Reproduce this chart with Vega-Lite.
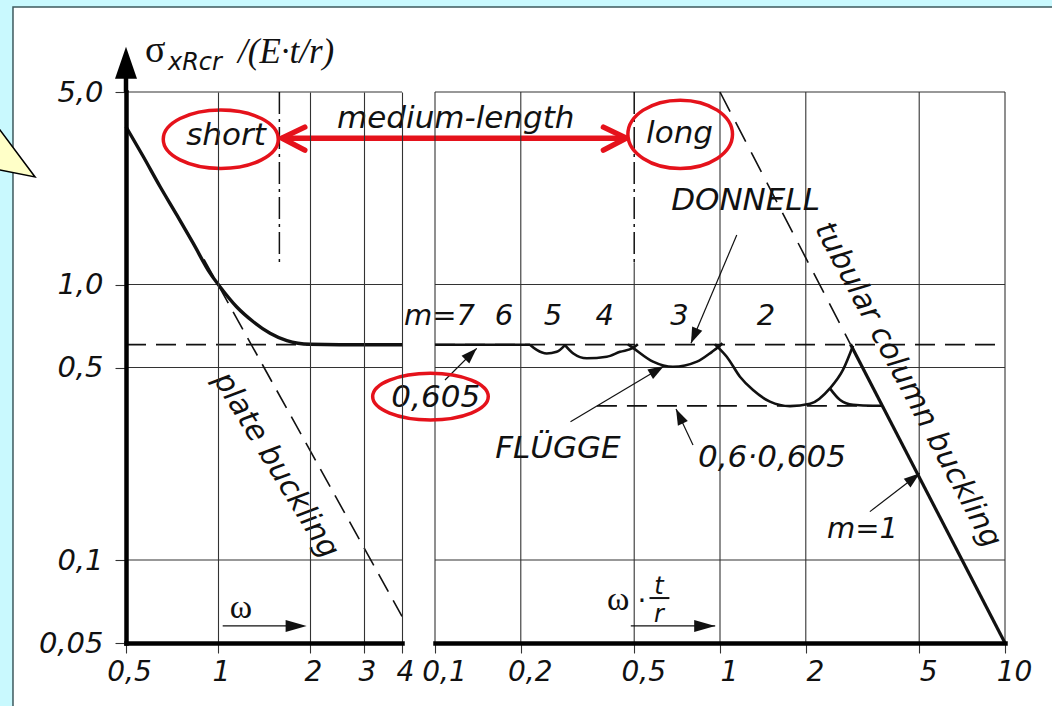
{
"$schema": "https://vega.github.io/schema/vega-lite/v6.json",
"width": 879, "height": 551, "autosize": "none",
"padding": {"left": 126, "top": 92, "right": 47, "bottom": 63},
"background": "#c9f9fe",
"config": {"view": {"stroke": null}},
"datasets": {
 "whiteBox": [{"w": 0.2134, "w2": 1000, "s": 10.17, "s2": 0.01}],
 "callout": [{"w": 0.1936, "s": 3.08}],
 "hgridL": [{"w": 0.5, "w2": 4, "s": 5}, {"w": 0.5, "w2": 4, "s": 1}, {"w": 0.5, "w2": 4, "s": 0.5}, {"w": 0.5, "w2": 4, "s": 0.1}],
 "yShaft": [{"w": 0.5, "s": 5, "s2": 6.53}],
 "yHead": [{"w": 0.5, "s": 7.3}],
 "redArrow": [{"w": 1.617, "w2": 21.7, "s": 3.40}],
 "redHeadL": [{"w": 1.617, "s": 3.40}],
 "redHeadR": [{"w": 21.7, "s": 3.40}],
 "ellShort": [{"w": 1.021, "s": 3.37}],
 "leftLabels": [
  {"part": "short", "w": 1.062, "s": 3.21, "label": "short"},
  {"part": "plate", "w": 1.548, "s": 0.221, "label": "plate buckling"},
  {"part": "sigma", "w": 0.577, "s": 6.42, "label": "σ"},
  {"part": "sub", "w": 0.686, "s": 6.01, "label": "xRcr"},
  {"part": "rest", "w": 1.163, "s": 6.37, "label": "/(E·t/r)"},
  {"part": "omega", "w": 1.189, "s": 0.0616, "label": "ω"}
 ],
 "omegaArrow": [{"w": 1.036, "w2": 1.9, "s": 0.05765}],
 "omegaHead": [{"w": 1.95, "s": 0.05765}],
 "leftCurve": [{"w":0.5,"s":3.74},{"w":0.57,"s":2.91},{"w":0.646,"s":2.27},{"w":0.733,"s":1.79},{"w":0.83,"s":1.41},{"w":0.942,"s":1.10},{"w":1.015,"s":0.982},{"w":1.15,"s":0.831},{"w":1.305,"s":0.733},{"w":1.48,"s":0.666},{"w":1.68,"s":0.626},{"w":2.0,"s":0.607},{"w":2.5,"s":0.605},{"w":4,"s":0.605}],
 "plate": [{"w":0.9,"s":1.235},{"w":4,"s":0.0625}],
 "flatLeft": [{"w":0.5,"s":0.605},{"w":4,"s":0.605}],
 "dashDotLeft": [{"w":1.588,"s":5},{"w":1.588,"s":1.205}],
 "hgridR": [{"v": 0.1, "v2": 10, "s": 5}, {"v": 0.1, "v2": 10, "s": 1}, {"v": 0.1, "v2": 10, "s": 0.5}, {"v": 0.1, "v2": 10, "s": 0.1}],
 "flatRight": [{"v":0.1,"s":0.605},{"v":10,"s":0.605}],
 "lowerDash": [{"v":0.37,"s":0.363},{"v":3.7,"s":0.363}],
 "dashDotRight": [{"v":0.5,"s":5},{"v":0.5,"s":1.205}],
 "columnDashed": [{"v":1,"s":5},{"v":2.87,"s":0.607}],
 "columnSolid": [{"v":2.87,"s":0.607},{"v":10,"s":0.05}],
 "vgridRight": [{"v":0.1,"s":0.05,"s2":5},{"v":0.2,"s":0.05,"s2":5},{"v":0.5,"s":0.05,"s2":1.205},{"v":1,"s":0.05,"s2":5},{"v":2,"s":0.05,"s2":5},{"v":5,"s":0.05,"s2":5},{"v":10,"s":0.05,"s2":5}],
 "rightCurves": [
  {"m":"7","v":0.1,"s":0.605},{"m":"7","v":0.2154,"s":0.605},
  {"m":"5","v":0.2154,"s":0.605},{"m":"5","v":0.2275,"s":0.579},{"m":"5","v":0.2466,"s":0.562},{"m":"5","v":0.2673,"s":0.570},{"m":"5","v":0.2858,"s":0.603},
  {"m":"4","v":0.2858,"s":0.603},{"m":"4","v":0.3057,"s":0.562},{"m":"4","v":0.3406,"s":0.540},{"m":"4","v":0.4005,"s":0.547},{"m":"4","v":0.4459,"s":0.570},{"m":"4","v":0.4953,"s":0.589},{"m":"4","v":0.515,"s":0.607},
  {"m":"3","v":0.475,"s":0.607},{"m":"3","v":0.4953,"s":0.589},{"m":"3","v":0.582,"s":0.525},{"m":"3","v":0.684,"s":0.503},{"m":"3","v":0.83,"s":0.525},{"m":"3","v":0.937,"s":0.570},{"m":"3","v":0.984,"s":0.592},{"m":"3","v":1.02,"s":0.612},
  {"m":"2","v":0.96,"s":0.607},{"m":"2","v":0.984,"s":0.592},{"m":"2","v":1.056,"s":0.547},{"m":"2","v":1.175,"s":0.463},{"m":"2","v":1.306,"s":0.414},{"m":"2","v":1.497,"s":0.376},{"m":"2","v":1.761,"s":0.362},{"m":"2","v":2.07,"s":0.369},{"m":"2","v":2.43,"s":0.42},{"m":"2","v":2.7,"s":0.49},{"m":"2","v":2.93,"s":0.6},
  {"m":"1","v":2.43,"s":0.42},{"m":"1","v":2.64,"s":0.381},{"m":"1","v":2.93,"s":0.366},{"m":"1","v":3.44,"s":0.363},{"m":"1","v":3.7,"s":0.363}
 ],
 "arrows": [
  {"name":"0,605","v":0.1084,"s":0.4505,"v2":0.1401,"s2":0.587},
  {"name":"DONNELL","v":1.145,"s":1.513,"v2":0.791,"s2":0.612},
  {"name":"FLÜGGE","v":0.2988,"s":0.318,"v2":0.636,"s2":0.506},
  {"name":"0,6·0,605","v":0.804,"s":0.2617,"v2":0.701,"s2":0.3535},
  {"name":"m=1","v":3.357,"s":0.1499,"v2":5.024,"s2":0.2065},
  {"name":"wtr","v":0.4864,"s":0.05765,"v2":0.962,"s2":0.05765}
 ],
 "arrowTips": [
  {"name":"0,605","v":0.1401,"s":0.587},
  {"name":"DONNELL","v":0.791,"s":0.612},
  {"name":"FLÜGGE","v":0.636,"s":0.506},
  {"name":"0,6·0,605","v":0.701,"s":0.3535},
  {"name":"m=1","v":5.024,"s":0.2065},
  {"name":"wtr","v":0.962,"s":0.05765}
 ],
 "ellLong": [{"v": 0.725, "s": 3.51}],
 "ell605": [{"v": 0.0964, "s": 0.392}],
 "rightTexts": [
  {"v":0.1183,"s":3.70,"label":"medium-length"},
  {"v":0.721,"s":3.26,"label":"long"},
  {"v":1.229,"s":1.864,"label":"DONNELL"},
  {"v":0.1006,"s":0.3604,"label":"0,605"},
  {"v":0.27,"s":0.234,"label":"FLÜGGE"},
  {"v":1.522,"s":0.218,"label":"0,6·0,605"}
 ],
 "mLabels": [
  {"v":0.1037,"s":0.713,"label":"m=7"},
  {"v":0.1746,"s":0.713,"label":"6"},
  {"v":0.2594,"s":0.713,"label":"5"},
  {"v":0.3937,"s":0.713,"label":"4"},
  {"v":0.7204,"s":0.713,"label":"3"},
  {"v":1.45,"s":0.713,"label":"2"},
  {"v":3.162,"s":0.12,"label":"m=1"}
 ],
 "rightLabels": [
  {"part": "tubular", "v": 4.566, "s": 0.432, "label": "tubular column buckling"},
  {"part": "w", "v": 0.4013, "s": 0.0659, "label": "ω"},
  {"part": "dot", "v": 0.5325, "s": 0.0659, "label": "·"},
  {"part": "tr", "v": 0.611, "s": 0.0752, "label": "t"},
  {"part": "tr", "v": 0.611, "s": 0.0597, "label": "r"}
 ],
 "fracBar": [{"v": 0.5657, "v2": 0.6644, "s": 0.0728}]
},
"layer": [
 {
  "encoding": {
   "x": {"field": "w", "type": "quantitative",
    "scale": {"type": "log", "domain": [0.5, 4], "range": [0, 276], "nice": false, "zero": false},
    "axis": {"orient": "bottom", "values": [0.5, 1, 2, 3, 4], "title": null, "grid": true, "gridColor": "#333333", "gridWidth": 1.1,
     "domainColor": "#000000", "domainWidth": 4.5, "domainCap": "square", "tickColor": "#333333", "tickSize": 10, "tickWidth": 1.1,
     "labelFont": "DejaVu Sans", "labelFontStyle": "italic", "labelFontSize": 28, "labelColor": "#111111", "labelPadding": 5,
     "labelFlush": false, "labelOffset": 3, "labelOverlap": false,
     "labelExpr": "replace(format(datum.value,'~g'),'.',',')", "zindex": 1}},
   "y": {"field": "s", "type": "quantitative",
    "scale": {"type": "log", "domain": [0.05, 5], "nice": false, "zero": false},
    "axis": {"orient": "left", "values": [0.05, 0.1, 0.5, 1, 5], "title": null, "grid": false,
     "domainColor": "#000000", "domainWidth": 4.5, "domainCap": "square", "tickColor": "#333333", "tickSize": 11, "tickWidth": 1.1,
     "labelFont": "DejaVu Sans", "labelFontStyle": "italic", "labelFontSize": 29, "labelColor": "#111111", "labelPadding": 12,
     "labelOverlap": false,
     "labelExpr": "datum.value == 5 ? '5,0' : datum.value == 1 ? '1,0' : replace(format(datum.value,'~g'),'.',',')", "zindex": 1}}
  },
  "layer": [
   {"data": {"name": "whiteBox"}, "mark": {"type": "rect", "fill": "#ffffff", "stroke": "#3e5a5e", "strokeWidth": 1.5},
    "encoding": {"x2": {"field": "w2"}, "y2": {"field": "s2"}}},
   {"data": {"name": "callout"}, "mark": {"type": "point", "shape": "M -10 -33.4 L 35 27 L -10 18 Z", "size": 4, "filled": true, "fill": "#ffffc8", "stroke": "#000000", "strokeWidth": 1.5, "opacity": 1}, "encoding": {}},
   {"data": {"name": "hgridL"}, "mark": {"type": "rule", "color": "#333333", "strokeWidth": 1.1},
    "encoding": {"x2": {"field": "w2"}}},
   {"data": {"name": "flatLeft"}, "mark": {"type": "line", "color": "#111111", "strokeWidth": 1.8, "strokeDash": [20, 10]}, "encoding": {}},
   {"data": {"name": "plate"}, "mark": {"type": "line", "color": "#111111", "strokeWidth": 1.6, "strokeDash": [20, 10]}, "encoding": {}},
   {"data": {"name": "dashDotLeft"}, "mark": {"type": "line", "color": "#111111", "strokeWidth": 1.5, "strokeDash": [22, 5, 3, 5]}, "encoding": {}},
   {"data": {"name": "leftCurve"}, "mark": {"type": "line", "color": "#111111", "strokeWidth": 3.4, "interpolate": "monotone"}, "encoding": {}},
   {"data": {"name": "yShaft"}, "mark": {"type": "rule", "color": "#000000", "strokeWidth": 4.5},
    "encoding": {"y2": {"field": "s2"}}},
   {"data": {"name": "yHead"}, "mark": {"type": "point", "shape": "M 0 0 L 11 32 L -11 32 Z", "size": 4, "filled": true, "color": "#000000", "opacity": 1}, "encoding": {}},
   {"data": {"name": "redArrow"}, "mark": {"type": "rule", "color": "#e5121b", "strokeWidth": 5.5},
    "encoding": {"x2": {"field": "w2"}}},
   {"data": {"name": "redHeadL"}, "mark": {"type": "point", "shape": "M 23 -11 L 0 0 L 23 12", "size": 4, "filled": false, "stroke": "#e5121b", "strokeWidth": 5.5, "opacity": 1, "strokeCap": "round", "strokeJoin": "round"}, "encoding": {}},
   {"data": {"name": "redHeadR"}, "mark": {"type": "point", "shape": "M -23 -11 L 0 0 L -23 12", "size": 4, "filled": false, "stroke": "#e5121b", "strokeWidth": 5.5, "opacity": 1, "strokeCap": "round", "strokeJoin": "round"}, "encoding": {}},
   {"data": {"name": "ellShort"}, "mark": {"type": "point", "shape": "M -57.5 0 A 57.5 29.2 0 1 0 57.5 0 A 57.5 29.2 0 1 0 -57.5 0 Z", "size": 4, "filled": false, "stroke": "#e5121b", "strokeWidth": 3.5, "opacity": 1}, "encoding": {}},
   {"data": {"name": "leftLabels"}, "transform": [{"filter": "datum.part == 'short'"}],
    "mark": {"type": "text", "font": "DejaVu Sans", "fontStyle": "italic", "fontSize": 31, "color": "#111111", "align": "center", "baseline": "alphabetic"},
    "encoding": {"text": {"field": "label"}}},
   {"data": {"name": "leftLabels"}, "transform": [{"filter": "datum.part == 'plate'"}],
    "mark": {"type": "text", "font": "DejaVu Sans", "fontStyle": "italic", "fontSize": 30, "color": "#111111", "align": "center", "baseline": "middle", "angle": 58.5},
    "encoding": {"text": {"field": "label"}}},
   {"data": {"name": "leftLabels"}, "transform": [{"filter": "datum.part == 'sigma'"}],
    "mark": {"type": "text", "font": "Liberation Serif", "fontSize": 38, "color": "#111111", "align": "left", "baseline": "alphabetic"},
    "encoding": {"text": {"field": "label"}}},
   {"data": {"name": "leftLabels"}, "transform": [{"filter": "datum.part == 'sub'"}],
    "mark": {"type": "text", "font": "DejaVu Sans", "fontStyle": "italic", "fontSize": 24, "color": "#111111", "align": "left", "baseline": "alphabetic"},
    "encoding": {"text": {"field": "label"}}},
   {"data": {"name": "leftLabels"}, "transform": [{"filter": "datum.part == 'rest'"}],
    "mark": {"type": "text", "font": "Liberation Serif", "fontStyle": "italic", "fontSize": 35, "color": "#111111", "align": "left", "baseline": "alphabetic"},
    "encoding": {"text": {"field": "label"}}},
   {"data": {"name": "leftLabels"}, "transform": [{"filter": "datum.part == 'omega'"}],
    "mark": {"type": "text", "font": "Liberation Serif", "fontSize": 34, "color": "#111111", "align": "center", "baseline": "alphabetic"},
    "encoding": {"text": {"field": "label"}}},
   {"data": {"name": "omegaArrow"}, "mark": {"type": "rule", "color": "#111111", "strokeWidth": 1.3},
    "encoding": {"x2": {"field": "w2"}}},
   {"data": {"name": "omegaHead"}, "mark": {"type": "point", "shape": "M 0 0 L -21 -6 L -21 6 Z", "size": 4, "filled": true, "color": "#111111", "opacity": 1}, "encoding": {}}
  ]
 },
 {
  "encoding": {
   "x": {"field": "v", "type": "quantitative",
    "scale": {"type": "log", "domain": [0.1, 10], "range": [309, 879], "nice": false, "zero": false},
    "axis": {"orient": "bottom", "values": [0.1, 0.2, 0.5, 1, 2, 5, 10], "title": null, "grid": false,
     "domainColor": "#000000", "domainWidth": 4.5, "domainCap": "square", "tickColor": "#333333", "tickSize": 10, "tickWidth": 1.1,
     "labelFont": "DejaVu Sans", "labelFontStyle": "italic", "labelFontSize": 28, "labelColor": "#111111", "labelPadding": 5,
     "labelFlush": false, "labelOffset": 9, "labelOverlap": false,
     "labelExpr": "replace(format(datum.value,'~g'),'.',',')", "zindex": 1}},
   "y": {"field": "s", "type": "quantitative",
    "scale": {"type": "log", "domain": [0.05, 5], "nice": false, "zero": false},
    "axis": {"orient": "left", "values": [0.05, 0.1, 0.5, 1, 5], "title": null, "grid": false,
     "domainColor": "#000000", "domainWidth": 4.5, "domainCap": "square", "tickColor": "#333333", "tickSize": 11, "tickWidth": 1.1,
     "labelFont": "DejaVu Sans", "labelFontStyle": "italic", "labelFontSize": 29, "labelColor": "#111111", "labelPadding": 12,
     "labelOverlap": false,
     "labelExpr": "datum.value == 5 ? '5,0' : datum.value == 1 ? '1,0' : replace(format(datum.value,'~g'),'.',',')", "zindex": 1}}
  },
  "layer": [
   {"data": {"name": "hgridR"}, "mark": {"type": "rule", "color": "#333333", "strokeWidth": 1.1},
    "encoding": {"x2": {"field": "v2"}}},
   {"data": {"name": "vgridRight"}, "mark": {"type": "rule", "color": "#333333", "strokeWidth": 1.1},
    "encoding": {"y2": {"field": "s2"}}},
   {"data": {"name": "flatRight"}, "mark": {"type": "line", "color": "#111111", "strokeWidth": 1.8, "strokeDash": [20, 10]}, "encoding": {}},
   {"data": {"name": "lowerDash"}, "mark": {"type": "line", "color": "#111111", "strokeWidth": 1.8, "strokeDash": [20, 10]}, "encoding": {}},
   {"data": {"name": "dashDotRight"}, "mark": {"type": "line", "color": "#111111", "strokeWidth": 1.5, "strokeDash": [22, 5, 3, 5]}, "encoding": {}},
   {"data": {"name": "columnDashed"}, "mark": {"type": "line", "color": "#111111", "strokeWidth": 1.6, "strokeDash": [22, 12]}, "encoding": {}},
   {"data": {"name": "rightCurves"}, "mark": {"type": "line", "color": "#111111", "strokeWidth": 2.6, "interpolate": "monotone"},
    "encoding": {"detail": {"field": "m"}}},
   {"data": {"name": "columnSolid"}, "mark": {"type": "line", "color": "#111111", "strokeWidth": 3.2}, "encoding": {}},
   {"data": {"name": "arrows"}, "mark": {"type": "rule", "color": "#111111", "strokeWidth": 1.2},
    "encoding": {"x2": {"field": "v2"}, "y2": {"field": "s2"}}},
   {"data": {"name": "arrowTips"}, "transform": [{"filter": "datum.name == '0,605'"}],
    "mark": {"type": "point", "shape": "M 0 0 L -16 -5.5 L -16 5.5 Z", "size": 4, "filled": true, "color": "#111111", "opacity": 1, "angle": 315}, "encoding": {}},
   {"data": {"name": "arrowTips"}, "transform": [{"filter": "datum.name == 'DONNELL'"}],
    "mark": {"type": "point", "shape": "M 0 0 L -16 -5.5 L -16 5.5 Z", "size": 4, "filled": true, "color": "#111111", "opacity": 1, "angle": 112.9}, "encoding": {}},
   {"data": {"name": "arrowTips"}, "transform": [{"filter": "datum.name == 'FLÜGGE'"}],
    "mark": {"type": "point", "shape": "M 0 0 L -16 -5.5 L -16 5.5 Z", "size": 4, "filled": true, "color": "#111111", "opacity": 1, "angle": 329.2}, "encoding": {}},
   {"data": {"name": "arrowTips"}, "transform": [{"filter": "datum.name == '0,6·0,605'"}],
    "mark": {"type": "point", "shape": "M 0 0 L -16 -5.5 L -16 5.5 Z", "size": 4, "filled": true, "color": "#111111", "opacity": 1, "angle": 244.7}, "encoding": {}},
   {"data": {"name": "arrowTips"}, "transform": [{"filter": "datum.name == 'm=1'"}],
    "mark": {"type": "point", "shape": "M 0 0 L -16 -5.5 L -16 5.5 Z", "size": 4, "filled": true, "color": "#111111", "opacity": 1, "angle": 322.4}, "encoding": {}},
   {"data": {"name": "arrowTips"}, "transform": [{"filter": "datum.name == 'wtr'"}],
    "mark": {"type": "point", "shape": "M 0 0 L -21 -6 L -21 6 Z", "size": 4, "filled": true, "color": "#111111", "opacity": 1}, "encoding": {}},
   {"data": {"name": "ellLong"}, "mark": {"type": "point", "shape": "M -52.3 0 A 52.3 34.2 0 1 0 52.3 0 A 52.3 34.2 0 1 0 -52.3 0 Z", "size": 4, "filled": false, "stroke": "#e5121b", "strokeWidth": 3.5, "opacity": 1}, "encoding": {}},
   {"data": {"name": "ell605"}, "mark": {"type": "point", "shape": "M -57.8 0 A 57.8 23.3 0 1 0 57.8 0 A 57.8 23.3 0 1 0 -57.8 0 Z", "size": 4, "filled": false, "stroke": "#e5121b", "strokeWidth": 3.5, "opacity": 1}, "encoding": {}},
   {"data": {"name": "rightTexts"}, "mark": {"type": "text", "font": "DejaVu Sans", "fontStyle": "italic", "fontSize": 31, "color": "#111111", "align": "center", "baseline": "alphabetic"},
    "encoding": {"text": {"field": "label"}}},
   {"data": {"name": "mLabels"}, "mark": {"type": "text", "font": "DejaVu Sans", "fontStyle": "italic", "fontSize": 29, "color": "#111111", "align": "center", "baseline": "alphabetic"},
    "encoding": {"text": {"field": "label"}}},
   {"data": {"name": "rightLabels"}, "transform": [{"filter": "datum.part == 'tubular'"}],
    "mark": {"type": "text", "font": "DejaVu Sans", "fontStyle": "italic", "fontSize": 30, "color": "#111111", "align": "center", "baseline": "middle", "angle": 62},
    "encoding": {"text": {"field": "label"}}},
   {"data": {"name": "rightLabels"}, "transform": [{"filter": "datum.part == 'w'"}],
    "mark": {"type": "text", "font": "Liberation Serif", "fontSize": 34, "color": "#111111", "align": "left", "baseline": "alphabetic"},
    "encoding": {"text": {"field": "label"}}},
   {"data": {"name": "rightLabels"}, "transform": [{"filter": "datum.part == 'dot'"}],
    "mark": {"type": "text", "font": "DejaVu Sans", "fontSize": 28, "color": "#111111", "align": "center", "baseline": "alphabetic"},
    "encoding": {"text": {"field": "label"}}},
   {"data": {"name": "rightLabels"}, "transform": [{"filter": "datum.part == 'tr'"}],
    "mark": {"type": "text", "font": "DejaVu Sans", "fontStyle": "italic", "fontSize": 24, "color": "#111111", "align": "center", "baseline": "alphabetic"},
    "encoding": {"text": {"field": "label"}}},
   {"data": {"name": "fracBar"}, "mark": {"type": "rule", "color": "#111111", "strokeWidth": 2},
    "encoding": {"x2": {"field": "v2"}}}
  ]
 }
],
"resolve": {"scale": {"x": "independent"}, "axis": {"x": "independent"}}
}
